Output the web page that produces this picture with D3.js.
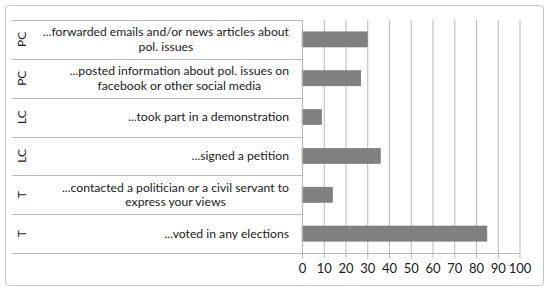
<!DOCTYPE html>
<html>
<head>
<meta charset="utf-8">
<script src="https://cdn.jsdelivr.net/npm/d3@7"></script>
<style>
  body { margin: 0; background: #fff; }
  svg text { font-family: Lato, "Open Sans", sans-serif; fill: #1a1a1a; }
</style>
</head>
<body>
<svg id="chart" width="550" height="293"></svg>
<script>
// categories, top to bottom
const groups = ['PC', 'PC', 'LC', 'LC', 'T', 'T'];
const activities = [
  '...forwarded emails and/or news articles about\npol. issues',
  '...posted information about pol. issues on\nfacebook or other social media',
  '...took part in a demonstration',
  '...signed a petition',
  '...contacted a politician or a civil servant to\nexpress your views',
  '...voted in any elections'
];
const values = [30, 27, 9, 36, 14, 85];
const tickValues = [0, 10, 20, 30, 40, 50, 60, 70, 80, 90, 100];

const svg = d3.select('#chart');
const lineColor = '#b8b8b8';

// outer frame
svg.append('rect')
  .attr('x', 5.5).attr('y', 5.5)
  .attr('width', 538).attr('height', 280)
  .attr('rx', 3)
  .attr('fill', '#fff')
  .attr('stroke', '#c4c4c4');

const plotLeft = 302, plotRight = 519.5, plotTop = 20, plotBottom = 253;
const labelLeft = 12;

const x = d3.scaleLinear().domain([0, 100]).range([plotLeft, plotRight]);
const y = d3.scaleBand().domain(d3.range(values.length)).range([plotTop, plotBottom]);

// vertical gridlines
svg.append('g')
  .attr('transform', 'translate(0,' + plotBottom + ')')
  .call(d3.axisBottom(x).tickValues(tickValues.slice(1)).tickSize(-(plotBottom - plotTop)).tickFormat(''))
  .call(g => g.select('.domain').remove())
  .call(g => g.selectAll('line').attr('stroke', lineColor));

// category separators (multi level axis lines)
svg.append('g').selectAll('line')
  .data(d3.range(values.length + 1))
  .join('line')
  .attr('x1', labelLeft)
  .attr('x2', plotLeft)
  .attr('y1', i => Math.round(i < values.length ? y(i) : plotBottom) + 0.5)
  .attr('y2', i => Math.round(i < values.length ? y(i) : plotBottom) + 0.5)
  .attr('stroke', lineColor);

// bars
const barH = y.bandwidth() * 0.39;
svg.append('g').selectAll('rect')
  .data(values)
  .join('rect')
  .attr('x', x(0))
  .attr('y', (d, i) => y(i) + (y.bandwidth() - barH) / 2)
  .attr('width', d => x(d) - x(0))
  .attr('height', barH)
  .attr('fill', '#808080')
  .attr('stroke', '#737373')
  .attr('stroke-width', 0.6);

// category axis line
svg.append('line')
  .attr('x1', plotLeft + 0.5).attr('x2', plotLeft + 0.5)
  .attr('y1', plotTop).attr('y2', plotBottom)
  .attr('stroke', lineColor);

// value axis
const xAxis = svg.append('g')
  .attr('transform', 'translate(0,' + (plotBottom + 0.5) + ')')
  .call(d3.axisBottom(x).tickValues(tickValues).tickSize(5).tickPadding(5));
xAxis.select('.domain').attr('stroke', lineColor).attr('d', 'M' + plotLeft + ',0H' + plotRight);
xAxis.selectAll('line').attr('stroke', lineColor);
xAxis.selectAll('text')
  .style('font-size', '13px')
  .style('font-family', 'Lato, "Open Sans", sans-serif')
  .attr('fill', '#1a1a1a');

// activity labels: block right aligned, lines centered inside block
const labelRight = 289;
const fontSize = 12.2;
activities.forEach((label, i) => {
  const lines = label.split('\n');
  const g = svg.append('g');
  const texts = lines.map((ln, k) => g.append('text')
    .attr('font-size', fontSize)
    .attr('text-anchor', 'middle')
    .attr('dy', '0.35em')
    .text(ln));
  const widths = texts.map(t => t.node().getComputedTextLength());
  const blockW = d3.max(widths);
  const cy = y(i) + y.bandwidth() / 2;
  const lh = 14.5;
  texts.forEach((t, k) => {
    t.attr('x', labelRight - blockW / 2)
      .attr('y', cy + (k - (lines.length - 1) / 2) * lh);
  });
});

// group labels, rotated
svg.append('g').selectAll('text')
  .data(groups)
  .join('text')
  .attr('font-size', 12)
  .attr('text-anchor', 'middle')
  .attr('dy', '0.35em')
  .attr('transform', (d, i) => 'translate(22,' + (y(i) + y.bandwidth() / 2) + ') rotate(-90)')
  .text(d => d);
</script>
</body>
</html>
